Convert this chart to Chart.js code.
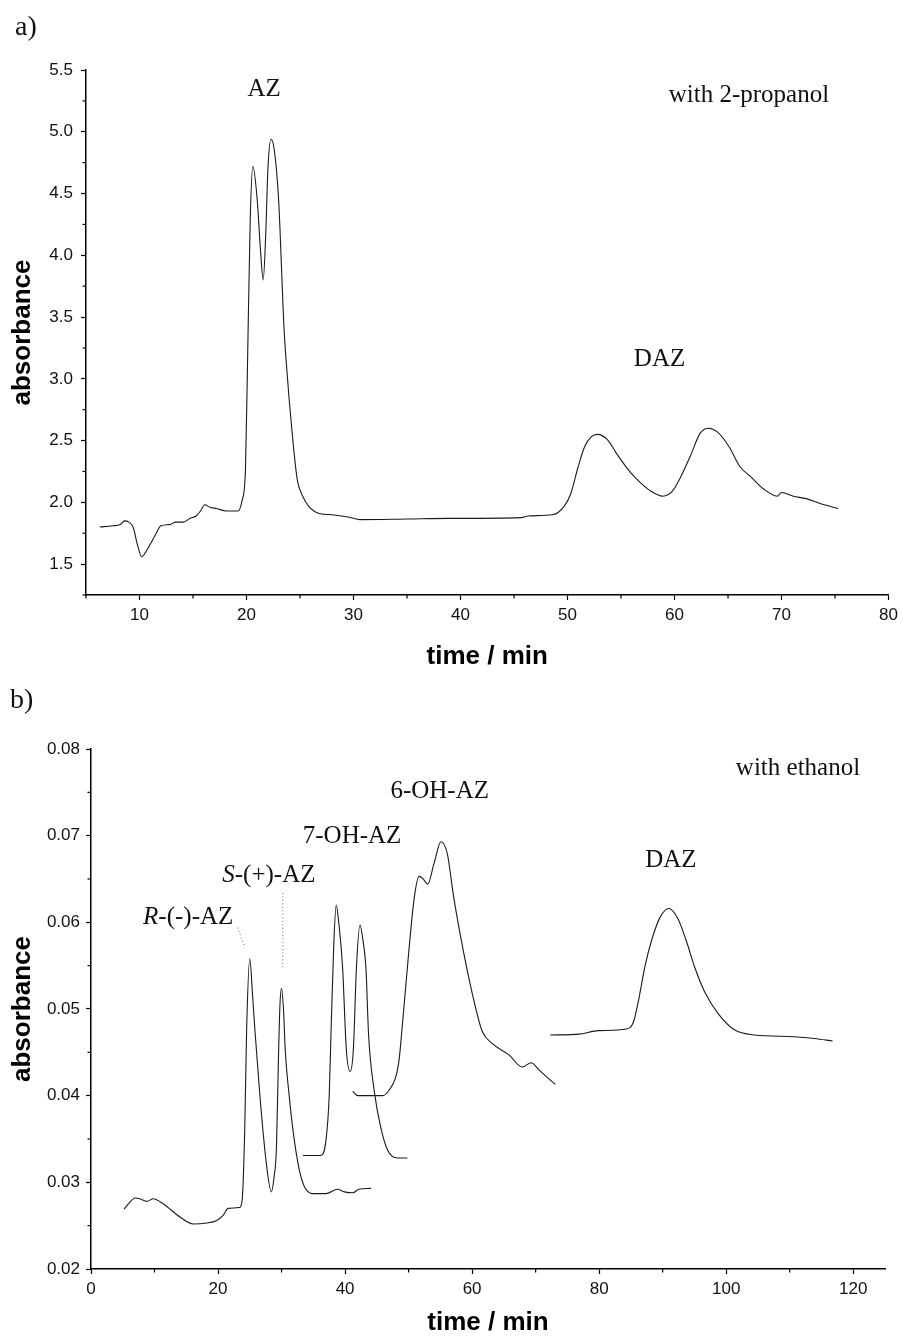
<!DOCTYPE html>
<html>
<head>
<meta charset="utf-8">
<script src="https://cdn.jsdelivr.net/npm/chart.js@4.4.0/dist/chart.umd.min.js"></script>
<style>
  body { margin: 0; background: #fff; width: 903px; height: 1338px; overflow: hidden; }
  canvas { position: absolute; left: 0; }
  #chartA { top: 0; }
  #chartB { top: 680px; }
</style>
</head>
<body>
<canvas id="chartA" width="903" height="680"></canvas>
<canvas id="chartB" width="903" height="658"></canvas>
<script>
// a) with 2-propanol
const timeA = [6.3, 7.5, 8.2, 8.6, 9.0, 9.4, 9.8, 10.2, 10.6, 11.0, 11.5, 12.0, 12.8, 13.4, 14.1, 14.7, 15.3, 15.7, 16.1, 16.6,
  17.2, 18.1, 19.2, 19.6, 19.9, 20.1, 20.35, 20.6, 21.0, 21.3, 21.56, 21.8, 22.0, 22.3, 22.6, 23.0, 23.5, 23.7, 24.3, 24.75,
  25.2, 25.8, 26.8, 28.0, 29.6, 30.6, 35.0, 38.9, 45.7, 46.3, 48.6, 49.7, 50.3, 51.0, 51.6, 52.2, 52.8, 53.7, 54.7, 55.9,
  56.8, 57.8, 58.9, 59.8, 60.6, 61.5, 62.4, 63.2, 64.0, 65.1, 66.1, 67.1, 68.3, 69.6, 70.0, 71.1, 72.3, 73.6, 75.3];
const absA = [1.80, 1.81, 1.82, 1.85, 1.84, 1.80, 1.66, 1.56, 1.60, 1.66, 1.74, 1.81, 1.82, 1.84, 1.84, 1.87, 1.89, 1.93, 1.98, 1.96,
  1.95, 1.93, 1.93, 2.02, 2.26, 3.15, 4.30, 4.72, 4.45, 4.05, 3.80, 4.18, 4.70, 4.94, 4.85, 4.45, 3.42, 3.15, 2.53, 2.18,
  2.06, 1.97, 1.91, 1.90, 1.88, 1.86, 1.865, 1.87, 1.876, 1.89, 1.90, 1.97, 2.07, 2.29, 2.45, 2.53, 2.55, 2.51, 2.38, 2.24,
  2.16, 2.09, 2.05, 2.09, 2.21, 2.38, 2.56, 2.60, 2.57, 2.45, 2.29, 2.21, 2.11, 2.05, 2.08, 2.05, 2.03, 1.99, 1.95];

// b) with ethanol, four traces
const timeAZ = [5.2, 6.0, 6.95, 7.7, 8.8, 9.8, 11.4, 14.0, 16.1, 18.2, 19.8, 20.8, 21.6, 23.4, 23.8, 24.2, 24.5, 25.0, 25.4, 25.8,
  26.6, 27.6, 28.4, 28.8, 29.2, 29.5, 29.75, 30.0, 30.3, 30.6, 31.2, 31.8, 32.8, 33.6, 34.9, 37.0, 38.8, 39.9, 41.2, 42.2, 44.1];
const absAZ = [0.0269, 0.0276, 0.0282, 0.0281, 0.0278, 0.0281, 0.0275, 0.0260, 0.0252, 0.0253, 0.0256, 0.0262, 0.0270, 0.0271, 0.0280, 0.0360, 0.0476, 0.0558, 0.0520, 0.0476,
  0.0399, 0.0322, 0.0289, 0.0305, 0.0341, 0.0440, 0.0505, 0.0524, 0.0500, 0.0450, 0.0400, 0.0360, 0.0314, 0.0295, 0.0287, 0.0287, 0.0292, 0.0289, 0.0288, 0.0292, 0.0293];

const time7OH = [33.35, 36.2, 37.0, 37.5, 37.8, 38.2, 38.6, 39.0, 39.6, 40.2, 40.8, 41.3, 41.8, 42.35, 42.8, 43.3, 43.7, 44.6, 45.6, 46.7, 48.25, 49.8];
const abs7OH = [0.0331, 0.0331, 0.0349, 0.0400, 0.0476, 0.0570, 0.0620, 0.0600, 0.0549, 0.0453, 0.0428, 0.0453, 0.0550, 0.0597, 0.0580, 0.0545, 0.0470, 0.0405, 0.0364, 0.0337, 0.0328, 0.0328];

const time6OH = [41.2, 42.0, 43.3, 45.9, 46.9, 48.0, 48.5, 49.0, 50.1, 50.9, 51.65, 52.3, 53.0, 54.0, 55.1, 56.1, 57.1, 58.7, 60.5, 61.6, 63.2, 65.8, 67.9, 69.3, 70.5, 72.0, 73.1];
const abs6OH = [0.0405, 0.0400, 0.0400, 0.0400, 0.0406, 0.0422, 0.0441, 0.0480, 0.0572, 0.0629, 0.0653, 0.0650, 0.0644, 0.0668, 0.0693, 0.0679, 0.0629, 0.0564, 0.0503, 0.0474, 0.0460, 0.0447, 0.0433, 0.0438, 0.0430, 0.0420, 0.0413];

const timeDAZ = [72.3, 76.8, 79.9, 84.3, 85.4, 86.2, 87.2, 88.25, 89.6, 91.0, 92.4, 93.7, 95.1, 96.6, 98.7, 101.3, 104.5, 110.7, 113.9, 116.75];
const absDAZ = [0.0470, 0.0471, 0.0475, 0.0477, 0.0485, 0.0510, 0.0549, 0.0579, 0.0606, 0.0616, 0.0604, 0.0579, 0.0547, 0.0520, 0.0495, 0.0476, 0.0470, 0.0468, 0.0466, 0.0463];

// labelled ticks
const xLabelsA = [10, 20, 30, 40, 50, 60, 70, 80];
const yLabelsA = [1.5, 2.0, 2.5, 3.0, 3.5, 4.0, 4.5, 5.0, 5.5];
const xLabelsB = [0, 20, 40, 60, 80, 100, 120];
const yLabelsB = [0.02, 0.03, 0.04, 0.05, 0.06, 0.07, 0.08];

const SANS = '"Liberation Sans", Arial, sans-serif';
const SERIF = '"Liberation Serif", "Times New Roman", serif';

const pts = (xs, ys) => xs.map((x, i) => ({ x: x, y: ys[i] }));
const inList = (list, v) => list.some(l => Math.abs(l - v) < 1e-6);

function trace(xs, ys) {
  return {
    data: pts(xs, ys),
    borderColor: '#1a1a1a',
    borderWidth: 1.1,
    pointRadius: 0,
    cubicInterpolationMode: 'monotone',
    fill: false
  };
}

// text labels, dotted leaders, short minor ticks
const notes = {
  id: 'notes',
  afterDraw(chart, args, opts) {
    const { ctx, scales: { x, y } } = chart;
    ctx.save();

    // minor ticks
    [x, y].forEach(s => {
      ctx.strokeStyle = '#000';
      ctx.lineWidth = 1.2;
      s.ticks.forEach(t => {
        if (inList(opts.major[s.id], t.value)) return;
        const p = s.getPixelForValue(t.value);
        ctx.beginPath();
        if (s.id === 'x') { ctx.moveTo(p, s.top); ctx.lineTo(p, s.top + 3.5); }
        else { ctx.moveTo(s.right, p); ctx.lineTo(s.right - 3.5, p); }
        ctx.stroke();
      });
    });

    ctx.strokeStyle = '#666';
    ctx.lineWidth = 1;
    ctx.setLineDash([1, 2.5]);
    (opts.leaders || []).forEach(l => {
      ctx.beginPath();
      ctx.moveTo(x.getPixelForValue(l[0]), y.getPixelForValue(l[1]));
      ctx.lineTo(x.getPixelForValue(l[2]), y.getPixelForValue(l[3]));
      ctx.stroke();
    });
    ctx.setLineDash([]);

    ctx.fillStyle = '#111';
    ctx.textBaseline = 'alphabetic';
    ctx.textAlign = 'left';
    (opts.texts || []).forEach(t => {
      const fonts = t.parts.map(p => (p[1] ? 'italic ' : '') + '25px ' + SERIF);
      let w = 0;
      t.parts.forEach((p, i) => { ctx.font = fonts[i]; w += ctx.measureText(p[0]).width; });
      let px = x.getPixelForValue(t.x) - w / 2;
      const py = y.getPixelForValue(t.y);
      t.parts.forEach((p, i) => {
        ctx.font = fonts[i];
        ctx.fillText(p[0], px, py);
        px += ctx.measureText(p[0]).width;
      });
    });

    ctx.font = '28px ' + SERIF;
    ctx.fillText(opts.panel[0], opts.panel[1], opts.panel[2]);
    ctx.restore();
  }
};

function axis(min, max, step, labels, fmt, isX, fit, tickPad, title, titlePad) {
  return {
    type: 'linear',
    min: min,
    max: max,
    afterFit: s => { if (isX) s.height = fit; else s.width = fit; },
    ticks: {
      stepSize: step,
      includeBounds: false,
      autoSkip: false,
      maxRotation: 0,
      padding: tickPad,
      color: '#111',
      font: { family: SANS, size: 17 },
      callback: v => inList(labels, v) ? fmt(v) : ''
    },
    grid: {
      drawOnChartArea: false,
      drawTicks: true,
      tickLength: 5,
      tickWidth: 1.2,
      tickColor: c => (c.tick && inList(labels, c.tick.value)) ? '#000' : 'rgba(0,0,0,0)'
    },
    border: { display: true, color: '#000', width: 1.5 },
    title: {
      display: true,
      text: title,
      color: '#000',
      font: { family: SANS, size: 26, weight: 'bold' },
      padding: titlePad
    }
  };
}

new Chart(document.getElementById('chartA').getContext('2d'), {
  type: 'line',
  data: { datasets: [trace(timeA, absA)] },
  options: {
    responsive: false,
    animation: false,
    devicePixelRatio: 1,
    layout: { padding: { top: 70, right: 11, left: 0, bottom: 0 } },
    scales: {
      x: axis(5, 80, 5, xLabelsA, v => String(v), true, 85, 5, 'time / min', { top: 0, bottom: 8 }),
      y: axis(1.25, 5.5, 0.25, yLabelsA, v => v.toFixed(1), false, 86, 8, 'absorbance', { top: 7, bottom: 0 })
    },
    plugins: {
      legend: { display: false },
      tooltip: { enabled: false },
      notes: {
        major: { x: xLabelsA, y: yLabelsA },
        panel: ['a)', 15, 35],
        texts: [
          { x: 21.65, y: 5.286, parts: [['AZ']] },
          { x: 66.95, y: 5.237, parts: [['with 2-propanol']] },
          { x: 58.6, y: 3.10, parts: [['DAZ']] }
        ]
      }
    }
  },
  plugins: [notes]
});

new Chart(document.getElementById('chartB').getContext('2d'), {
  type: 'line',
  data: {
    datasets: [
      trace(timeAZ, absAZ),
      trace(time7OH, abs7OH),
      trace(time6OH, abs6OH),
      trace(timeDAZ, absDAZ)
    ]
  },
  options: {
    responsive: false,
    animation: false,
    devicePixelRatio: 1,
    layout: { padding: { top: 69, right: 18, left: 0, bottom: 0 } },
    scales: {
      x: axis(0, 125, 10, xLabelsB, v => String(v), true, 69, 5, 'time / min', { top: 0, bottom: 0 }),
      y: axis(0.02, 0.08, 0.005, yLabelsB, v => v.toFixed(2), false, 91, 6, 'absorbance', { top: 7, bottom: 0 })
    },
    plugins: {
      legend: { display: false },
      tooltip: { enabled: false },
      notes: {
        major: { x: xLabelsB, y: yLabelsB },
        panel: ['b)', 10, 28],
        leaders: [[23.1, 0.0594, 24.2, 0.0571], [30.2, 0.0634, 30.2, 0.0548]],
        texts: [
          { x: 15.3, y: 0.0598, parts: [['R', true], ['-(-)-AZ']] },
          { x: 28.0, y: 0.0646, parts: [['S', true], ['-(+)-AZ']] },
          { x: 41.1, y: 0.0692, parts: [['7-OH-AZ']] },
          { x: 54.9, y: 0.0744, parts: [['6-OH-AZ']] },
          { x: 91.3, y: 0.0664, parts: [['DAZ']] },
          { x: 111.3, y: 0.0770, parts: [['with ethanol']] }
        ]
      }
    }
  },
  plugins: [notes]
});
</script>
</body>
</html>
